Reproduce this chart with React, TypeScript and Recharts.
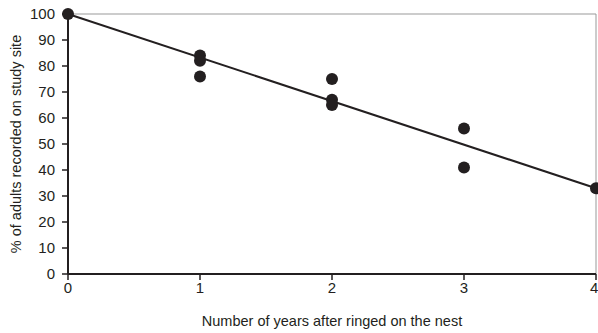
import { ComposedChart, Scatter, XAxis, YAxis, ReferenceLine } from 'recharts'

const years = [0, 1, 1, 1, 2, 2, 2, 3, 3, 4]
const percentRecorded = [100, 84, 82, 76, 75, 67, 65, 56, 41, 33]

const trendYears = [0, 4]
const trendValues = [100, 33]

const xTicks = [0, 1, 2, 3, 4]
const yTicks = [0, 10, 20, 30, 40, 50, 60, 70, 80, 90, 100]

const points = years.map((x, i) => ({ x, y: percentRecorded[i] }))
const trend = trendYears.map((x, i) => ({ x, y: trendValues[i] }))

const INK = '#231f20'
const FONT = 'Liberation Sans, Arial, sans-serif'

const Dot = (props: { cx?: number; cy?: number }) => {
  if (props.cx == null || props.cy == null) return null
  return <circle cx={props.cx} cy={props.cy} r={6} fill={INK} />
}

const NoDot = () => null

const YLabel = () => (
  <text x={16} y={144} transform="rotate(-90 16 144)" textAnchor="middle" dominantBaseline="central"
    fontSize={14.5} fill={INK} fontFamily={FONT}>
    % of adults recorded on study site
  </text>
)

export default function App() {
  return (
    <div style={{ position: 'absolute', left: 0, top: 0, width: 598, height: 333, background: '#fff' }}>
      <ComposedChart width={598} height={333} margin={{ top: 14, right: 2, bottom: 29, left: 18 }}>
        <XAxis
          type="number"
          dataKey="x"
          domain={[0, 4]}
          ticks={xTicks}
          axisLine={{ stroke: INK, strokeWidth: 2 }}
          tickLine={{ stroke: INK, strokeWidth: 1.5 }}
          tickSize={6}
          tick={{ fontSize: 15, fill: INK, fontFamily: FONT, dy: 0 }}
          height={30}
          label={{ value: 'Number of years after ringed on the nest', position: 'insideBottom', offset: -22, fontSize: 14.5, fill: INK, fontFamily: FONT }}
        />
        <YAxis
          type="number"
          dataKey="y"
          domain={[0, 100]}
          ticks={yTicks}
          axisLine={{ stroke: INK, strokeWidth: 2 }}
          tickLine={{ stroke: INK, strokeWidth: 1.5 }}
          tickSize={6}
          tick={{ fontSize: 15, fill: INK, fontFamily: FONT, dx: -5 }}
          width={50}
          label={<YLabel />}
        />
        <ReferenceLine y={100} stroke="#999" strokeWidth={1} />
        <ReferenceLine x={4} stroke="#999" strokeWidth={1} />
        <Scatter data={trend} line={{ stroke: INK, strokeWidth: 2 }} shape={NoDot} isAnimationActive={false} />
        <Scatter data={points} shape={Dot} isAnimationActive={false} />
      </ComposedChart>
    </div>
  )
}
